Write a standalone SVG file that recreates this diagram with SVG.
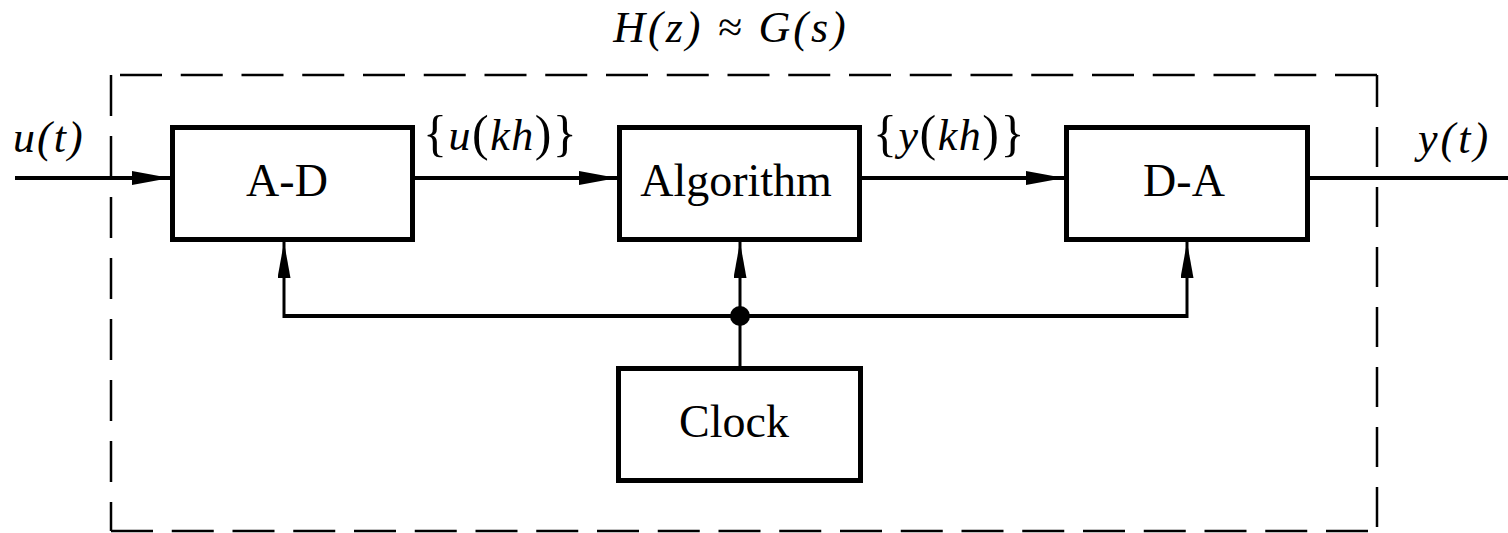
<svg xmlns="http://www.w3.org/2000/svg" width="1508" height="533" viewBox="0 0 1508 533">
<style>
.box{fill:#fff;stroke:#000;stroke-width:5}
.lbl{font-family:"Liberation Serif","DejaVu Serif",serif;font-size:46px;fill:#000;text-anchor:middle}
.math{font-family:"Liberation Serif","DejaVu Serif",serif;font-style:italic;font-size:44px;fill:#000}
.up{font-style:normal}
.br{font-style:normal;font-size:50px}
.dash{fill:none;stroke:#000;stroke-width:2.5}
.wire{fill:none;stroke:#000;stroke-width:4}
.vwire{fill:none;stroke:#000;stroke-width:3}
</style>
<defs>
<marker id="ah" viewBox="0 0 38 14" refX="38" refY="7" markerWidth="38" markerHeight="14" markerUnits="userSpaceOnUse" orient="auto">
<path d="M0,0 L38,7 L0,14 Z" fill="#000"/>
</marker>
<marker id="av" viewBox="0 0 36 13" refX="36" refY="6.5" markerWidth="36" markerHeight="13" markerUnits="userSpaceOnUse" orient="auto">
<path d="M0,0 L36,6.5 L0,13 Z" fill="#000"/>
</marker>
</defs>
<g id="boundary">
<line class="dash" x1="120" y1="75" x2="1377" y2="75" stroke-dasharray="42 18.75"/>
<line class="dash" x1="111" y1="75" x2="111" y2="531" stroke-dasharray="41 20"/>
<line class="dash" x1="111" y1="531" x2="1368" y2="531" stroke-dasharray="42 18.75"/>
<line class="dash" x1="1377" y1="75" x2="1377" y2="531" stroke-dasharray="40 20" stroke-dashoffset="8"/>
</g>
<g id="title"><text class="math" x="731" y="42" text-anchor="middle" letter-spacing="3">H(z) ≈ G(s)</text></g>
<g id="connectors">
<line class="wire" x1="15" y1="178" x2="170" y2="178" marker-end="url(#ah)"/>
<line class="wire" x1="415" y1="178" x2="617" y2="178" marker-end="url(#ah)"/>
<line class="wire" x1="862" y1="178" x2="1064" y2="178" marker-end="url(#ah)"/>
<line class="wire" x1="1310" y1="178" x2="1508" y2="178"/>
<polyline class="wire" points="284,316 1188,316"/>
<line class="vwire" x1="284" y1="318" x2="284" y2="242" marker-end="url(#av)"/>
<line class="vwire" x1="740" y1="366" x2="740" y2="242" marker-end="url(#av)"/>
<line class="vwire" x1="1187" y1="318" x2="1187" y2="242" marker-end="url(#av)"/>
<circle cx="740" cy="316" r="10" fill="#000"/>
</g>
<g id="label-ut"><text class="math" x="13" y="152" font-size="46" letter-spacing="2">u(t)</text></g>
<g id="label-yt"><text class="math" x="1418" y="153" font-size="46" letter-spacing="3">y(t)</text></g>
<g id="label-ukh"><text class="math" x="423" y="150" letter-spacing="1.5"><tspan class="br">{</tspan><tspan>u</tspan><tspan class="br">(</tspan><tspan>kh</tspan><tspan class="br">)</tspan><tspan class="br">}</tspan></text></g>
<g id="label-ykh"><text class="math" x="873" y="150" letter-spacing="1.5"><tspan class="br">{</tspan><tspan>y</tspan><tspan class="br">(</tspan><tspan>kh</tspan><tspan class="br">)</tspan><tspan class="br">}</tspan></text></g>
<g id="ad"><rect class="box" x="172.5" y="127.5" width="240" height="112"/><text class="lbl" x="287" y="196">A-D</text></g>
<g id="algorithm"><rect class="box" x="619.5" y="127.5" width="240" height="112"/><text class="lbl" x="736" y="196">Algorithm</text></g>
<g id="da"><rect class="box" x="1066.5" y="127.5" width="241" height="112"/><text class="lbl" x="1184" y="196">D-A</text></g>
<g id="clock"><rect class="box" x="618.5" y="368.5" width="242" height="112"/><text class="lbl" x="734" y="437">Clock</text></g>
</svg>
